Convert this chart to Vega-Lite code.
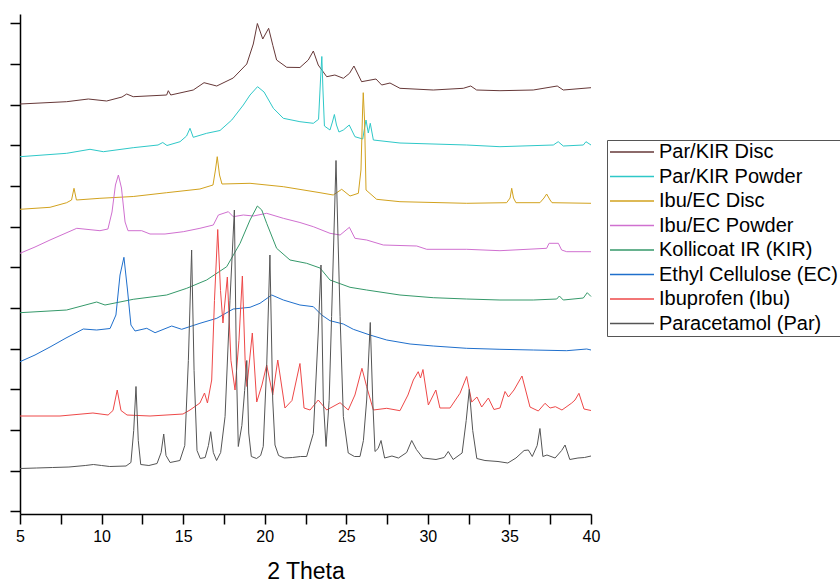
{
  "$schema": "https://vega.github.io/schema/vega-lite/v6.json",
  "width": 571,
  "height": 500,
  "autosize": {"type": "none"},
  "padding": {"left": 20, "top": 14, "right": 249, "bottom": 71},
  "background": "white",
  "config": {"view": {"stroke": null}, "font": "Liberation Sans"},
  "data": {"values": [
    {"s":"Par/KIR Disc","x":5,"y":366.5},{"s":"Par/KIR Disc","x":7.86,"y":368.8},{"s":"Par/KIR Disc","x":9.19,"y":371.5},{"s":"Par/KIR Disc","x":10.31,"y":369.5},{"s":"Par/KIR Disc","x":11.25,"y":373.5},{"s":"Par/KIR Disc","x":11.54,"y":376.5},{"s":"Par/KIR Disc","x":11.94,"y":373.8},{"s":"Par/KIR Disc","x":13.99,"y":375.5},{"s":"Par/KIR Disc","x":14.09,"y":379.8},{"s":"Par/KIR Disc","x":14.24,"y":375.5},{"s":"Par/KIR Disc","x":15.62,"y":380.5},{"s":"Par/KIR Disc","x":16.28,"y":387.8},{"s":"Par/KIR Disc","x":17.06,"y":384.5},{"s":"Par/KIR Disc","x":18.07,"y":392.5},{"s":"Par/KIR Disc","x":18.9,"y":406.5},{"s":"Par/KIR Disc","x":19.3,"y":426.5},{"s":"Par/KIR Disc","x":19.55,"y":447},{"s":"Par/KIR Disc","x":19.88,"y":431.5},{"s":"Par/KIR Disc","x":20.24,"y":442.2},{"s":"Par/KIR Disc","x":20.5,"y":425},{"s":"Par/KIR Disc","x":20.73,"y":410.5},{"s":"Par/KIR Disc","x":21.35,"y":403.2},{"s":"Par/KIR Disc","x":22.16,"y":403},{"s":"Par/KIR Disc","x":22.67,"y":410.5},{"s":"Par/KIR Disc","x":22.98,"y":419.5},{"s":"Par/KIR Disc","x":23.28,"y":405.5},{"s":"Par/KIR Disc","x":23.8,"y":393.8},{"s":"Par/KIR Disc","x":24.3,"y":395.5},{"s":"Par/KIR Disc","x":24.82,"y":392.2},{"s":"Par/KIR Disc","x":25.2,"y":397.2},{"s":"Par/KIR Disc","x":25.47,"y":404.5},{"s":"Par/KIR Disc","x":25.94,"y":388.8},{"s":"Par/KIR Disc","x":26.82,"y":391.5},{"s":"Par/KIR Disc","x":27.17,"y":385.5},{"s":"Par/KIR Disc","x":27.68,"y":387.5},{"s":"Par/KIR Disc","x":28.29,"y":382.2},{"s":"Par/KIR Disc","x":30.33,"y":380.5},{"s":"Par/KIR Disc","x":32.17,"y":382.2},{"s":"Par/KIR Disc","x":32.63,"y":384.5},{"s":"Par/KIR Disc","x":32.99,"y":380.5},{"s":"Par/KIR Disc","x":34.42,"y":379.8},{"s":"Par/KIR Disc","x":36.46,"y":380.5},{"s":"Par/KIR Disc","x":37.93,"y":384.5},{"s":"Par/KIR Disc","x":38.3,"y":380.5},{"s":"Par/KIR Disc","x":40,"y":382.8},

    {"s":"Par/KIR Powder","x":5,"y":313.8},{"s":"Par/KIR Powder","x":7.86,"y":317.2},{"s":"Par/KIR Powder","x":9.29,"y":321.2},{"s":"Par/KIR Powder","x":10.11,"y":318.8},{"s":"Par/KIR Powder","x":11.94,"y":322.8},{"s":"Par/KIR Powder","x":13.46,"y":325.5},{"s":"Par/KIR Powder","x":13.75,"y":328},{"s":"Par/KIR Powder","x":14.01,"y":325},{"s":"Par/KIR Powder","x":14.81,"y":328.8},{"s":"Par/KIR Powder","x":15.21,"y":334.5},{"s":"Par/KIR Powder","x":15.42,"y":342.2},{"s":"Par/KIR Powder","x":15.62,"y":333.2},{"s":"Par/KIR Powder","x":16.44,"y":337.2},{"s":"Par/KIR Powder","x":17.26,"y":340},{"s":"Par/KIR Powder","x":17.98,"y":350.5},{"s":"Par/KIR Powder","x":18.69,"y":365.5},{"s":"Par/KIR Powder","x":19.1,"y":375.5},{"s":"Par/KIR Powder","x":19.56,"y":383.8},{"s":"Par/KIR Powder","x":19.96,"y":378.5},{"s":"Par/KIR Powder","x":20.53,"y":362.2},{"s":"Par/KIR Powder","x":21.14,"y":352.2},{"s":"Par/KIR Powder","x":22.16,"y":348.8},{"s":"Par/KIR Powder","x":22.98,"y":347.2},{"s":"Par/KIR Powder","x":23.3,"y":351.2},{"s":"Par/KIR Powder","x":23.42,"y":390.5},{"s":"Par/KIR Powder","x":23.5,"y":414},{"s":"Par/KIR Powder","x":23.57,"y":380.5},{"s":"Par/KIR Powder","x":23.66,"y":344.5},{"s":"Par/KIR Powder","x":24,"y":340.5},{"s":"Par/KIR Powder","x":24.15,"y":348.5},{"s":"Par/KIR Powder","x":24.27,"y":356},{"s":"Par/KIR Powder","x":24.4,"y":345.5},{"s":"Par/KIR Powder","x":24.55,"y":338.5},{"s":"Par/KIR Powder","x":24.82,"y":340.5},{"s":"Par/KIR Powder","x":25.18,"y":345.5},{"s":"Par/KIR Powder","x":25.53,"y":333.8},{"s":"Par/KIR Powder","x":26.01,"y":331.5},{"s":"Par/KIR Powder","x":26.12,"y":342.5},{"s":"Par/KIR Powder","x":26.21,"y":350.5},{"s":"Par/KIR Powder","x":26.35,"y":337.5},{"s":"Par/KIR Powder","x":26.47,"y":347.2},{"s":"Par/KIR Powder","x":26.66,"y":330.5},{"s":"Par/KIR Powder","x":28.29,"y":327.5},{"s":"Par/KIR Powder","x":32.38,"y":325.5},{"s":"Par/KIR Powder","x":34.42,"y":323.8},{"s":"Par/KIR Powder","x":37.69,"y":325.5},{"s":"Par/KIR Powder","x":37.99,"y":328.8},{"s":"Par/KIR Powder","x":38.3,"y":324.5},{"s":"Par/KIR Powder","x":39.53,"y":325.5},{"s":"Par/KIR Powder","x":39.69,"y":328.8},{"s":"Par/KIR Powder","x":40,"y":325.5},

    {"s":"Ibu/EC Disc","x":5,"y":261.2},{"s":"Ibu/EC Disc","x":6.84,"y":263.2},{"s":"Ibu/EC Disc","x":7.86,"y":267.8},{"s":"Ibu/EC Disc","x":8.16,"y":270.5},{"s":"Ibu/EC Disc","x":8.31,"y":282.2},{"s":"Ibu/EC Disc","x":8.46,"y":270.5},{"s":"Ibu/EC Disc","x":9.9,"y":272.2},{"s":"Ibu/EC Disc","x":11.94,"y":274},{"s":"Ibu/EC Disc","x":13.99,"y":277.8},{"s":"Ibu/EC Disc","x":16.03,"y":281.5},{"s":"Ibu/EC Disc","x":16.83,"y":285.5},{"s":"Ibu/EC Disc","x":16.98,"y":300.5},{"s":"Ibu/EC Disc","x":17.09,"y":313.8},{"s":"Ibu/EC Disc","x":17.23,"y":295.5},{"s":"Ibu/EC Disc","x":17.38,"y":286.5},{"s":"Ibu/EC Disc","x":19.1,"y":287.2},{"s":"Ibu/EC Disc","x":21.14,"y":283.8},{"s":"Ibu/EC Disc","x":23.39,"y":277.8},{"s":"Ibu/EC Disc","x":24.2,"y":275.5},{"s":"Ibu/EC Disc","x":24.72,"y":281.2},{"s":"Ibu/EC Disc","x":25.23,"y":274.5},{"s":"Ibu/EC Disc","x":25.74,"y":277.2},{"s":"Ibu/EC Disc","x":25.9,"y":300.5},{"s":"Ibu/EC Disc","x":26,"y":360.5},{"s":"Ibu/EC Disc","x":26.04,"y":377.8},{"s":"Ibu/EC Disc","x":26.12,"y":350.5},{"s":"Ibu/EC Disc","x":26.21,"y":280.5},{"s":"Ibu/EC Disc","x":26.86,"y":271.2},{"s":"Ibu/EC Disc","x":28.29,"y":268.8},{"s":"Ibu/EC Disc","x":32.38,"y":267.2},{"s":"Ibu/EC Disc","x":34.83,"y":267.8},{"s":"Ibu/EC Disc","x":35.04,"y":272.5},{"s":"Ibu/EC Disc","x":35.14,"y":282.2},{"s":"Ibu/EC Disc","x":35.25,"y":272.5},{"s":"Ibu/EC Disc","x":35.4,"y":267.8},{"s":"Ibu/EC Disc","x":36.87,"y":267.8},{"s":"Ibu/EC Disc","x":37.12,"y":272.5},{"s":"Ibu/EC Disc","x":37.28,"y":276.5},{"s":"Ibu/EC Disc","x":37.49,"y":270.5},{"s":"Ibu/EC Disc","x":37.61,"y":267.8},{"s":"Ibu/EC Disc","x":40,"y":267.2},

    {"s":"Ibu/EC Powder","x":5,"y":217.2},{"s":"Ibu/EC Powder","x":5.92,"y":223.5},{"s":"Ibu/EC Powder","x":6.84,"y":230.5},{"s":"Ibu/EC Powder","x":8.48,"y":242.2},{"s":"Ibu/EC Powder","x":9.9,"y":239.8},{"s":"Ibu/EC Powder","x":10.39,"y":241.5},{"s":"Ibu/EC Powder","x":10.64,"y":258.5},{"s":"Ibu/EC Powder","x":10.85,"y":285.5},{"s":"Ibu/EC Powder","x":11.03,"y":295.5},{"s":"Ibu/EC Powder","x":11.22,"y":282.5},{"s":"Ibu/EC Powder","x":11.44,"y":248.5},{"s":"Ibu/EC Powder","x":11.62,"y":239.8},{"s":"Ibu/EC Powder","x":12.46,"y":239.8},{"s":"Ibu/EC Powder","x":12.97,"y":236.5},{"s":"Ibu/EC Powder","x":13.89,"y":236.5},{"s":"Ibu/EC Powder","x":15.01,"y":238.8},{"s":"Ibu/EC Powder","x":16.03,"y":242.2},{"s":"Ibu/EC Powder","x":16.85,"y":245.5},{"s":"Ibu/EC Powder","x":17.16,"y":255.5},{"s":"Ibu/EC Powder","x":17.77,"y":258.8},{"s":"Ibu/EC Powder","x":18.07,"y":253.8},{"s":"Ibu/EC Powder","x":18.69,"y":255.5},{"s":"Ibu/EC Powder","x":19.3,"y":254.5},{"s":"Ibu/EC Powder","x":20.12,"y":257.2},{"s":"Ibu/EC Powder","x":21.14,"y":252.2},{"s":"Ibu/EC Powder","x":22.16,"y":248},{"s":"Ibu/EC Powder","x":22.98,"y":243.8},{"s":"Ibu/EC Powder","x":24,"y":237.2},{"s":"Ibu/EC Powder","x":24.62,"y":235.5},{"s":"Ibu/EC Powder","x":25.19,"y":243.2},{"s":"Ibu/EC Powder","x":25.53,"y":232.2},{"s":"Ibu/EC Powder","x":26.25,"y":230.5},{"s":"Ibu/EC Powder","x":27.27,"y":225.5},{"s":"Ibu/EC Powder","x":29.32,"y":224.5},{"s":"Ibu/EC Powder","x":29.93,"y":221.2},{"s":"Ibu/EC Powder","x":32.38,"y":221.2},{"s":"Ibu/EC Powder","x":34.42,"y":219.8},{"s":"Ibu/EC Powder","x":37.28,"y":222.2},{"s":"Ibu/EC Powder","x":37.43,"y":227.2},{"s":"Ibu/EC Powder","x":38,"y":227.2},{"s":"Ibu/EC Powder","x":38.2,"y":220.5},{"s":"Ibu/EC Powder","x":38.51,"y":218.8},{"s":"Ibu/EC Powder","x":40,"y":218.8},

    {"s":"Kollicoat IR (KIR)","x":5,"y":157.8},{"s":"Kollicoat IR (KIR)","x":7.86,"y":160.5},{"s":"Kollicoat IR (KIR)","x":9.7,"y":168.5},{"s":"Kollicoat IR (KIR)","x":10.21,"y":165.5},{"s":"Kollicoat IR (KIR)","x":11.94,"y":171.2},{"s":"Kollicoat IR (KIR)","x":13.99,"y":175.5},{"s":"Kollicoat IR (KIR)","x":15.22,"y":182.2},{"s":"Kollicoat IR (KIR)","x":16.44,"y":190.5},{"s":"Kollicoat IR (KIR)","x":17.67,"y":203.8},{"s":"Kollicoat IR (KIR)","x":18.49,"y":227.2},{"s":"Kollicoat IR (KIR)","x":19.1,"y":250.5},{"s":"Kollicoat IR (KIR)","x":19.55,"y":264.5},{"s":"Kollicoat IR (KIR)","x":19.82,"y":260.5},{"s":"Kollicoat IR (KIR)","x":20.12,"y":247.2},{"s":"Kollicoat IR (KIR)","x":20.73,"y":222.2},{"s":"Kollicoat IR (KIR)","x":21.55,"y":210.5},{"s":"Kollicoat IR (KIR)","x":22.57,"y":207.2},{"s":"Kollicoat IR (KIR)","x":23.39,"y":202.5},{"s":"Kollicoat IR (KIR)","x":24,"y":190.5},{"s":"Kollicoat IR (KIR)","x":25.23,"y":183.2},{"s":"Kollicoat IR (KIR)","x":26.25,"y":180.5},{"s":"Kollicoat IR (KIR)","x":28.29,"y":175.5},{"s":"Kollicoat IR (KIR)","x":30.33,"y":172.8},{"s":"Kollicoat IR (KIR)","x":32.38,"y":171.5},{"s":"Kollicoat IR (KIR)","x":34.42,"y":170.5},{"s":"Kollicoat IR (KIR)","x":36.46,"y":170.5},{"s":"Kollicoat IR (KIR)","x":37.9,"y":171.5},{"s":"Kollicoat IR (KIR)","x":38.06,"y":174.5},{"s":"Kollicoat IR (KIR)","x":38.3,"y":170.5},{"s":"Kollicoat IR (KIR)","x":39.53,"y":172.5},{"s":"Kollicoat IR (KIR)","x":39.77,"y":177.8},{"s":"Kollicoat IR (KIR)","x":40,"y":174},

    {"s":"Ethyl Cellulose (EC)","x":5,"y":108.8},{"s":"Ethyl Cellulose (EC)","x":5.92,"y":115.5},{"s":"Ethyl Cellulose (EC)","x":6.84,"y":123.5},{"s":"Ethyl Cellulose (EC)","x":7.82,"y":132.5},{"s":"Ethyl Cellulose (EC)","x":8.88,"y":141.5},{"s":"Ethyl Cellulose (EC)","x":9.7,"y":140.5},{"s":"Ethyl Cellulose (EC)","x":10.52,"y":142},{"s":"Ethyl Cellulose (EC)","x":10.88,"y":155.5},{"s":"Ethyl Cellulose (EC)","x":11.13,"y":195.5},{"s":"Ethyl Cellulose (EC)","x":11.37,"y":213.2},{"s":"Ethyl Cellulose (EC)","x":11.59,"y":180.5},{"s":"Ethyl Cellulose (EC)","x":11.8,"y":145.5},{"s":"Ethyl Cellulose (EC)","x":12.05,"y":139.5},{"s":"Ethyl Cellulose (EC)","x":12.77,"y":142.2},{"s":"Ethyl Cellulose (EC)","x":13.28,"y":137.8},{"s":"Ethyl Cellulose (EC)","x":14.3,"y":144.5},{"s":"Ethyl Cellulose (EC)","x":14.91,"y":141.2},{"s":"Ethyl Cellulose (EC)","x":16.03,"y":147.2},{"s":"Ethyl Cellulose (EC)","x":17.06,"y":152.2},{"s":"Ethyl Cellulose (EC)","x":18.07,"y":161.5},{"s":"Ethyl Cellulose (EC)","x":19.1,"y":163.2},{"s":"Ethyl Cellulose (EC)","x":19.71,"y":167.2},{"s":"Ethyl Cellulose (EC)","x":20.43,"y":175.5},{"s":"Ethyl Cellulose (EC)","x":21.14,"y":170.5},{"s":"Ethyl Cellulose (EC)","x":22.16,"y":165.5},{"s":"Ethyl Cellulose (EC)","x":22.98,"y":163.8},{"s":"Ethyl Cellulose (EC)","x":23.49,"y":155.5},{"s":"Ethyl Cellulose (EC)","x":24,"y":149.8},{"s":"Ethyl Cellulose (EC)","x":24.82,"y":146.5},{"s":"Ethyl Cellulose (EC)","x":25.43,"y":141.2},{"s":"Ethyl Cellulose (EC)","x":26.45,"y":135.5},{"s":"Ethyl Cellulose (EC)","x":27.48,"y":130.5},{"s":"Ethyl Cellulose (EC)","x":28.91,"y":126.5},{"s":"Ethyl Cellulose (EC)","x":30.33,"y":124.5},{"s":"Ethyl Cellulose (EC)","x":32.38,"y":122.2},{"s":"Ethyl Cellulose (EC)","x":34.42,"y":121.2},{"s":"Ethyl Cellulose (EC)","x":36.46,"y":120.5},{"s":"Ethyl Cellulose (EC)","x":38.51,"y":119.8},{"s":"Ethyl Cellulose (EC)","x":39.74,"y":121.5},{"s":"Ethyl Cellulose (EC)","x":40,"y":120.5},

    {"s":"Ibuprofen (Ibu)","x":5,"y":54.5},{"s":"Ibuprofen (Ibu)","x":7.45,"y":54.5},{"s":"Ibuprofen (Ibu)","x":9.47,"y":57.5},{"s":"Ibuprofen (Ibu)","x":10.4,"y":55.5},{"s":"Ibuprofen (Ibu)","x":10.7,"y":60},{"s":"Ibuprofen (Ibu)","x":10.96,"y":80.5},{"s":"Ibuprofen (Ibu)","x":11.19,"y":60},{"s":"Ibuprofen (Ibu)","x":11.56,"y":55.5},{"s":"Ibuprofen (Ibu)","x":12.97,"y":54.5},{"s":"Ibuprofen (Ibu)","x":14.99,"y":56.5},{"s":"Ibuprofen (Ibu)","x":15.42,"y":60.5},{"s":"Ibuprofen (Ibu)","x":16.03,"y":67.5},{"s":"Ibuprofen (Ibu)","x":16.31,"y":77.5},{"s":"Ibuprofen (Ibu)","x":16.49,"y":67.5},{"s":"Ibuprofen (Ibu)","x":16.75,"y":90.5},{"s":"Ibuprofen (Ibu)","x":16.92,"y":170},{"s":"Ibuprofen (Ibu)","x":17.12,"y":241},{"s":"Ibuprofen (Ibu)","x":17.29,"y":180},{"s":"Ibuprofen (Ibu)","x":17.44,"y":147.5},{"s":"Ibuprofen (Ibu)","x":17.71,"y":193.5},{"s":"Ibuprofen (Ibu)","x":17.93,"y":110},{"s":"Ibuprofen (Ibu)","x":18.18,"y":80.5},{"s":"Ibuprofen (Ibu)","x":18.42,"y":130},{"s":"Ibuprofen (Ibu)","x":18.63,"y":194.5},{"s":"Ibuprofen (Ibu)","x":18.8,"y":110},{"s":"Ibuprofen (Ibu)","x":18.91,"y":84},{"s":"Ibuprofen (Ibu)","x":19.24,"y":137.5},{"s":"Ibuprofen (Ibu)","x":19.51,"y":68.5},{"s":"Ibuprofen (Ibu)","x":19.83,"y":85.5},{"s":"Ibuprofen (Ibu)","x":20.12,"y":105.5},{"s":"Ibuprofen (Ibu)","x":20.49,"y":75.5},{"s":"Ibuprofen (Ibu)","x":20.8,"y":110.5},{"s":"Ibuprofen (Ibu)","x":21.24,"y":62.5},{"s":"Ibuprofen (Ibu)","x":21.67,"y":70},{"s":"Ibuprofen (Ibu)","x":22.16,"y":107},{"s":"Ibuprofen (Ibu)","x":22.41,"y":62.5},{"s":"Ibuprofen (Ibu)","x":22.78,"y":60.5},{"s":"Ibuprofen (Ibu)","x":23.28,"y":70.5},{"s":"Ibuprofen (Ibu)","x":23.8,"y":60.5},{"s":"Ibuprofen (Ibu)","x":24.62,"y":67.8},{"s":"Ibuprofen (Ibu)","x":25.12,"y":60.5},{"s":"Ibuprofen (Ibu)","x":25.53,"y":75.5},{"s":"Ibuprofen (Ibu)","x":25.96,"y":102.2},{"s":"Ibuprofen (Ibu)","x":26.25,"y":83.8},{"s":"Ibuprofen (Ibu)","x":26.66,"y":60.5},{"s":"Ibuprofen (Ibu)","x":27.48,"y":62.2},{"s":"Ibuprofen (Ibu)","x":28.29,"y":59.8},{"s":"Ibuprofen (Ibu)","x":28.78,"y":75.5},{"s":"Ibuprofen (Ibu)","x":29.11,"y":90.5},{"s":"Ibuprofen (Ibu)","x":29.41,"y":98.8},{"s":"Ibuprofen (Ibu)","x":29.55,"y":92.5},{"s":"Ibuprofen (Ibu)","x":29.7,"y":101},{"s":"Ibuprofen (Ibu)","x":30.03,"y":65.5},{"s":"Ibuprofen (Ibu)","x":30.49,"y":80.5},{"s":"Ibuprofen (Ibu)","x":30.74,"y":62.5},{"s":"Ibuprofen (Ibu)","x":31.36,"y":62.5},{"s":"Ibuprofen (Ibu)","x":31.97,"y":77.2},{"s":"Ibuprofen (Ibu)","x":32.38,"y":94},{"s":"Ibuprofen (Ibu)","x":32.69,"y":68.5},{"s":"Ibuprofen (Ibu)","x":33.01,"y":73.5},{"s":"Ibuprofen (Ibu)","x":33.3,"y":63.5},{"s":"Ibuprofen (Ibu)","x":33.71,"y":72.5},{"s":"Ibuprofen (Ibu)","x":34.05,"y":61},{"s":"Ibuprofen (Ibu)","x":34.42,"y":62.5},{"s":"Ibuprofen (Ibu)","x":34.73,"y":79},{"s":"Ibuprofen (Ibu)","x":34.94,"y":73.5},{"s":"Ibuprofen (Ibu)","x":35.28,"y":80.5},{"s":"Ibuprofen (Ibu)","x":35.77,"y":94.5},{"s":"Ibuprofen (Ibu)","x":36.26,"y":63.5},{"s":"Ibuprofen (Ibu)","x":36.77,"y":59.5},{"s":"Ibuprofen (Ibu)","x":37.18,"y":67.2},{"s":"Ibuprofen (Ibu)","x":37.49,"y":62.5},{"s":"Ibuprofen (Ibu)","x":37.82,"y":63.8},{"s":"Ibuprofen (Ibu)","x":38.22,"y":60.5},{"s":"Ibuprofen (Ibu)","x":38.82,"y":67.5},{"s":"Ibuprofen (Ibu)","x":39.02,"y":70.5},{"s":"Ibuprofen (Ibu)","x":39.26,"y":77.2},{"s":"Ibuprofen (Ibu)","x":39.57,"y":61.5},{"s":"Ibuprofen (Ibu)","x":40,"y":60},

    {"s":"Paracetamol (Par)","x":5,"y":2},{"s":"Paracetamol (Par)","x":6,"y":2.5},{"s":"Paracetamol (Par)","x":7,"y":3},{"s":"Paracetamol (Par)","x":8,"y":3.5},{"s":"Paracetamol (Par)","x":9,"y":5},{"s":"Paracetamol (Par)","x":9.5,"y":6},{"s":"Paracetamol (Par)","x":10,"y":5},{"s":"Paracetamol (Par)","x":10.5,"y":4},{"s":"Paracetamol (Par)","x":11.5,"y":4.5},{"s":"Paracetamol (Par)","x":11.8,"y":8},{"s":"Paracetamol (Par)","x":11.97,"y":40},{"s":"Paracetamol (Par)","x":12.11,"y":84},{"s":"Paracetamol (Par)","x":12.25,"y":30},{"s":"Paracetamol (Par)","x":12.4,"y":6},{"s":"Paracetamol (Par)","x":12.9,"y":5},{"s":"Paracetamol (Par)","x":13.4,"y":7},{"s":"Paracetamol (Par)","x":13.65,"y":18},{"s":"Paracetamol (Par)","x":13.81,"y":36.5},{"s":"Paracetamol (Par)","x":13.95,"y":15},{"s":"Paracetamol (Par)","x":14.2,"y":8},{"s":"Paracetamol (Par)","x":14.8,"y":10},{"s":"Paracetamol (Par)","x":15.1,"y":25},{"s":"Paracetamol (Par)","x":15.32,"y":110},{"s":"Paracetamol (Par)","x":15.52,"y":220.5},{"s":"Paracetamol (Par)","x":15.67,"y":100},{"s":"Paracetamol (Par)","x":15.85,"y":20},{"s":"Paracetamol (Par)","x":16.05,"y":12},{"s":"Paracetamol (Par)","x":16.35,"y":13},{"s":"Paracetamol (Par)","x":16.55,"y":25},{"s":"Paracetamol (Par)","x":16.69,"y":38.8},{"s":"Paracetamol (Par)","x":16.85,"y":18},{"s":"Paracetamol (Par)","x":17.05,"y":10},{"s":"Paracetamol (Par)","x":17.3,"y":18},{"s":"Paracetamol (Par)","x":17.57,"y":54},{"s":"Paracetamol (Par)","x":17.87,"y":170},{"s":"Paracetamol (Par)","x":18.14,"y":260.5},{"s":"Paracetamol (Par)","x":18.27,"y":100},{"s":"Paracetamol (Par)","x":18.38,"y":24},{"s":"Paracetamol (Par)","x":18.6,"y":45},{"s":"Paracetamol (Par)","x":18.77,"y":80},{"s":"Paracetamol (Par)","x":18.9,"y":110},{"s":"Paracetamol (Par)","x":19.02,"y":37.5},{"s":"Paracetamol (Par)","x":19.18,"y":14},{"s":"Paracetamol (Par)","x":19.5,"y":12},{"s":"Paracetamol (Par)","x":19.75,"y":15},{"s":"Paracetamol (Par)","x":19.91,"y":24},{"s":"Paracetamol (Par)","x":20.12,"y":104},{"s":"Paracetamol (Par)","x":20.32,"y":215.5},{"s":"Paracetamol (Par)","x":20.49,"y":70.5},{"s":"Paracetamol (Par)","x":20.63,"y":25.5},{"s":"Paracetamol (Par)","x":20.85,"y":15},{"s":"Paracetamol (Par)","x":21.2,"y":12.5},{"s":"Paracetamol (Par)","x":21.7,"y":13},{"s":"Paracetamol (Par)","x":22.2,"y":14},{"s":"Paracetamol (Par)","x":22.57,"y":14},{"s":"Paracetamol (Par)","x":22.98,"y":37},{"s":"Paracetamol (Par)","x":23.28,"y":137.5},{"s":"Paracetamol (Par)","x":23.45,"y":205.5},{"s":"Paracetamol (Par)","x":23.59,"y":70.5},{"s":"Paracetamol (Par)","x":23.76,"y":24},{"s":"Paracetamol (Par)","x":23.95,"y":70},{"s":"Paracetamol (Par)","x":24.1,"y":154},{"s":"Paracetamol (Par)","x":24.37,"y":310},{"s":"Paracetamol (Par)","x":24.62,"y":154},{"s":"Paracetamol (Par)","x":24.82,"y":54},{"s":"Paracetamol (Par)","x":25.12,"y":17.5},{"s":"Paracetamol (Par)","x":25.5,"y":14},{"s":"Paracetamol (Par)","x":25.84,"y":14},{"s":"Paracetamol (Par)","x":26.05,"y":30},{"s":"Paracetamol (Par)","x":26.25,"y":70.5},{"s":"Paracetamol (Par)","x":26.47,"y":148},{"s":"Paracetamol (Par)","x":26.62,"y":70.5},{"s":"Paracetamol (Par)","x":26.76,"y":19},{"s":"Paracetamol (Par)","x":26.95,"y":22},{"s":"Paracetamol (Par)","x":27.13,"y":30},{"s":"Paracetamol (Par)","x":27.35,"y":12.5},{"s":"Paracetamol (Par)","x":27.8,"y":14.5},{"s":"Paracetamol (Par)","x":28.2,"y":12.5},{"s":"Paracetamol (Par)","x":28.7,"y":18},{"s":"Paracetamol (Par)","x":29.01,"y":30},{"s":"Paracetamol (Par)","x":29.3,"y":21},{"s":"Paracetamol (Par)","x":29.7,"y":12.5},{"s":"Paracetamol (Par)","x":30.5,"y":11},{"s":"Paracetamol (Par)","x":31,"y":13},{"s":"Paracetamol (Par)","x":31.25,"y":19},{"s":"Paracetamol (Par)","x":31.55,"y":11},{"s":"Paracetamol (Par)","x":32.1,"y":17.5},{"s":"Paracetamol (Par)","x":32.35,"y":50},{"s":"Paracetamol (Par)","x":32.54,"y":81},{"s":"Paracetamol (Par)","x":32.75,"y":40},{"s":"Paracetamol (Par)","x":33,"y":12},{"s":"Paracetamol (Par)","x":33.5,"y":10},{"s":"Paracetamol (Par)","x":34.3,"y":9},{"s":"Paracetamol (Par)","x":34.9,"y":7.5},{"s":"Paracetamol (Par)","x":35.4,"y":12.5},{"s":"Paracetamol (Par)","x":35.9,"y":20},{"s":"Paracetamol (Par)","x":36.16,"y":20.5},{"s":"Paracetamol (Par)","x":36.4,"y":14},{"s":"Paracetamol (Par)","x":36.7,"y":25},{"s":"Paracetamol (Par)","x":36.87,"y":42},{"s":"Paracetamol (Par)","x":37.05,"y":14},{"s":"Paracetamol (Par)","x":37.3,"y":15.5},{"s":"Paracetamol (Par)","x":37.8,"y":12.5},{"s":"Paracetamol (Par)","x":38.2,"y":20},{"s":"Paracetamol (Par)","x":38.41,"y":25.5},{"s":"Paracetamol (Par)","x":38.7,"y":11},{"s":"Paracetamol (Par)","x":39.2,"y":12.5},{"s":"Paracetamol (Par)","x":39.6,"y":13},{"s":"Paracetamol (Par)","x":40,"y":14.5}
  ]},
  "mark": {"type": "line", "strokeWidth": 1},
  "encoding": {
    "x": {
      "field": "x", "type": "quantitative",
      "scale": {"domain": [5, 40], "nice": false, "zero": false},
      "axis": {
        "title": "2 Theta", "titleFontSize": 23, "titleFont": "Liberation Sans", "titleFontWeight": "normal", "titleColor": "black", "titlePadding": 16,
        "values": [5, 7.5, 10, 12.5, 15, 17.5, 20, 22.5, 25, 27.5, 30, 32.5, 35, 37.5, 40],
        "labelExpr": "datum.value % 5 === 0 ? datum.label : ''",
        "labelFontSize": 16, "labelFont": "Liberation Sans", "labelColor": "black", "labelPadding": 4, "labelFlush": false, "labelOverlap": false,
        "tickSize": 10, "tickColor": "black", "tickWidth": 1.5,
        "domainColor": "black", "domainWidth": 1.5, "grid": false,
        "encode": {"ticks": {"update": {"y2": {"signal": "datum.value % 5 === 0 ? 10 : 5"}}}}
      }
    },
    "y": {
      "field": "y", "type": "quantitative",
      "scale": {"domain": [-43.5, 456.5], "nice": false, "zero": false},
      "axis": {
        "title": null, "labels": false,
        "values": [-40.65, 0, 40.65, 81.3, 121.95, 162.6, 203.25, 243.9, 284.55, 325.2, 365.85, 406.5, 447.15],
        "tickSize": 10, "tickColor": "black", "tickWidth": 1.5,
        "domainColor": "black", "domainWidth": 1.5, "grid": false,
        "encode": {"ticks": {"update": {"x2": {"signal": "abs(datum.value / 81.3 - round(datum.value / 81.3)) < 0.01 ? -10 : -5"}}}}
      }
    },
    "color": {
      "field": "s", "type": "nominal",
      "scale": {
        "domain": ["Par/KIR Disc", "Par/KIR Powder", "Ibu/EC Disc", "Ibu/EC Powder", "Kollicoat IR (KIR)", "Ethyl Cellulose (EC)", "Ibuprofen (Ibu)", "Paracetamol (Par)"],
        "range": ["#663838", "#2ec8c8", "#d2a21e", "#d070d0", "#35996a", "#1f6fcc", "#ee4848", "#555555"]
      },
      "legend": {
        "title": null, "orient": "none", "legendX": 587, "legendY": 126,
        "symbolType": "stroke", "symbolSize": 1936, "symbolStrokeWidth": 1.5,
        "clipHeight": 20, "rowPadding": 4.5,
        "labelFontSize": 20, "labelFont": "Liberation Sans", "labelColor": "black", "labelLimit": 400, "labelOffset": 4,
        "padding": 2, "strokeColor": "#555555", "fillColor": "white"
      }
    }
  }
}
